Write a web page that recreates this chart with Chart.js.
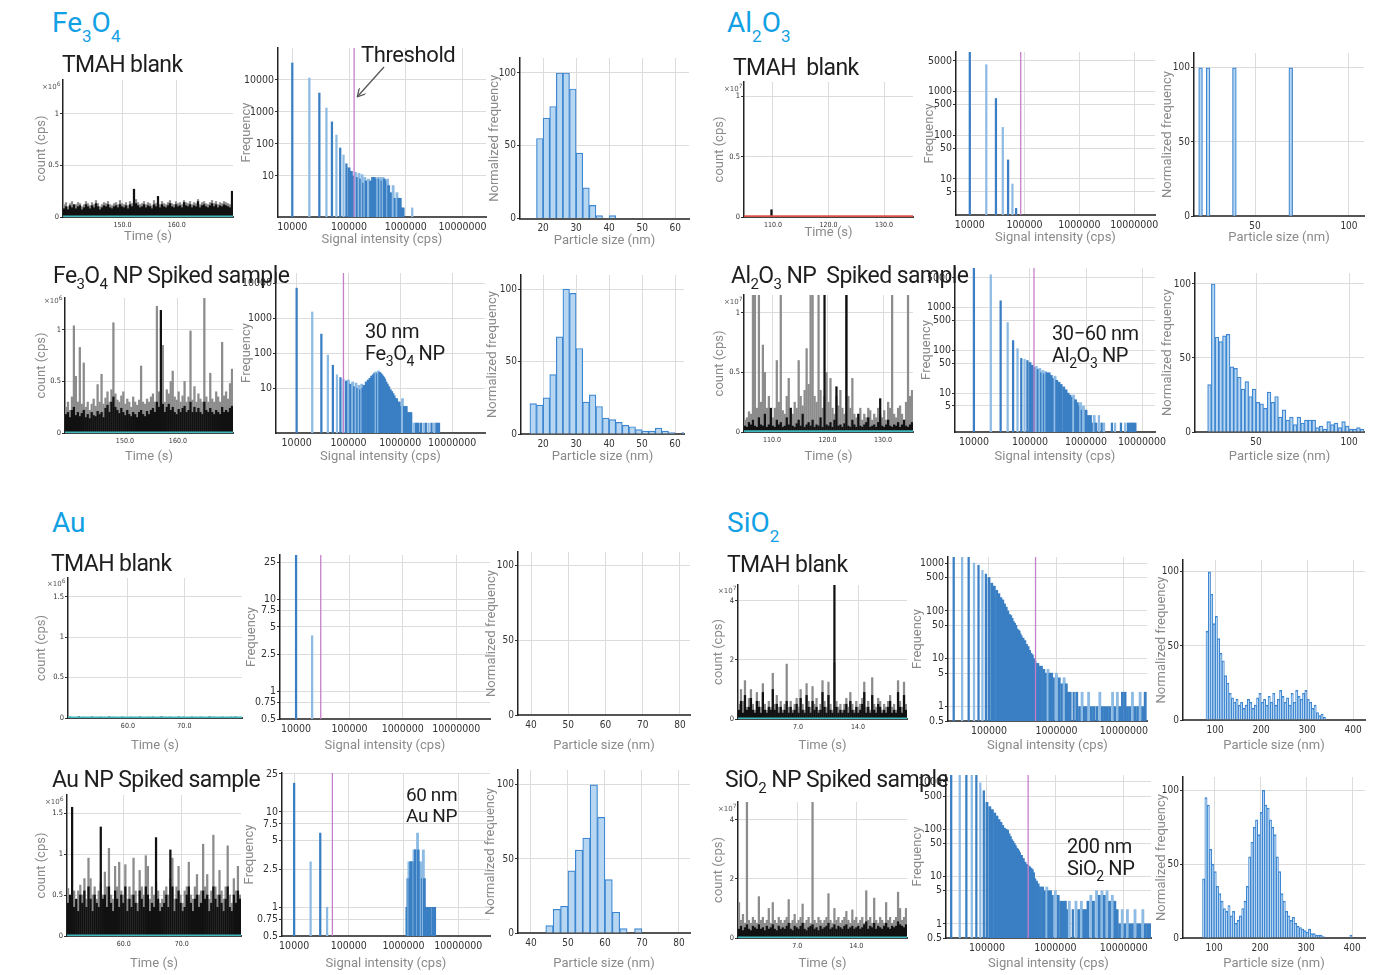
<!DOCTYPE html>
<html><head><meta charset="utf-8">
<script src="https://cdn.jsdelivr.net/npm/chart.js@4.4.1/dist/chart.umd.min.js"></script>
<style>
html,body{margin:0;padding:0;background:#fff;}
#root{position:relative;width:1379px;height:975px;overflow:hidden;font-family:Roboto,'Noto Sans',sans-serif;}
canvas{position:absolute;}
.t{position:absolute;white-space:nowrap;line-height:1;z-index:5;}
.h{font-size:28px;color:#12a0e4;}
.h sub{font-size:17px;vertical-align:baseline;position:relative;top:10px;}
.r{font-size:23px;color:#1e1e1e;letter-spacing:-0.6px;}
.r sub{font-size:15px;vertical-align:baseline;position:relative;top:6px;}
.a{font-size:20px;color:#1e1e1e;letter-spacing:-0.4px;}
.a sub{font-size:14px;vertical-align:baseline;position:relative;top:6px;}
.x{font-size:7px;color:#555;font-family:'DejaVu Sans',sans-serif;}
.x sup{font-size:6px;}
</style></head><body><div id="root">
<div class="t h" style="left:52px;top:8.5px">Fe<sub>3</sub>O<sub>4</sub></div>
<div class="t h" style="left:727px;top:8.5px">Al<sub>2</sub>O<sub>3</sub></div>
<div class="t h" style="left:52px;top:508.5px">Au</div>
<div class="t h" style="left:727px;top:508.5px">SiO<sub>2</sub></div>
<div class="t r" style="left:62px;top:52.5px">TMAH blank</div>
<div class="t r" style="left:53px;top:263.5px">Fe<sub>3</sub>O<sub>4</sub> NP Spiked sample</div>
<div class="t r" style="left:733px;top:55.5px">TMAH&nbsp; blank</div>
<div class="t r" style="left:731px;top:263.5px">Al<sub>2</sub>O<sub>3</sub> NP&nbsp; Spiked sample</div>
<div class="t r" style="left:51px;top:551.5px">TMAH blank</div>
<div class="t r" style="left:52px;top:767.5px">Au NP Spiked sample</div>
<div class="t r" style="left:727px;top:552.5px">TMAH blank</div>
<div class="t r" style="left:725px;top:767.5px">SiO<sub>2</sub> NP Spiked sample</div>
<div class="t a" style="left:361px;top:43.5px;font-size:22px">Threshold</div>
<div class="t a" style="left:365px;top:321px">30 nm</div>
<div class="t a" style="left:365px;top:343px">Fe<sub>3</sub>O<sub>4</sub> NP</div>
<div class="t a" style="left:1052px;top:323px">30−60 nm</div>
<div class="t a" style="left:1052px;top:345px">Al<sub>2</sub>O<sub>3</sub> NP</div>
<div class="t a" style="left:406px;top:785px;font-size:19px">60 nm</div>
<div class="t a" style="left:406px;top:806px;font-size:19px">Au NP</div>
<div class="t a" style="left:1067px;top:836px">200 nm</div>
<div class="t a" style="left:1067px;top:858px">SiO<sub>2</sub> NP</div>
<div class="t x" style="left:42px;top:81px">×10<sup>6</sup></div>
<div class="t x" style="left:44px;top:295px">×10<sup>6</sup></div>
<div class="t x" style="left:724px;top:83px">×10<sup>7</sup></div>
<div class="t x" style="left:724px;top:296px">×10<sup>7</sup></div>
<div class="t x" style="left:47px;top:578px">×10<sup>6</sup></div>
<div class="t x" style="left:45px;top:796px">×10<sup>6</sup></div>
<div class="t x" style="left:718px;top:585px">×10<sup>7</sup></div>
<div class="t x" style="left:718px;top:803px">×10<sup>7</sup></div>
<svg style="position:absolute;left:0;top:0;z-index:5;pointer-events:none" width="1379" height="975">
<defs><marker id="ah" markerWidth="9" markerHeight="9" refX="7" refY="4.5" orient="auto" markerUnits="userSpaceOnUse"><path d="M0,0 L8,4.5 L0,9" fill="none" stroke="#555" stroke-width="1.3"/></marker></defs>
<line x1="384" y1="67" x2="358" y2="96" stroke="#555" stroke-width="1.3" marker-end="url(#ah)"/>
</svg>
</div>
<script>
// ===================== DATA =====================
// ---- Fe3O4 ----
const feB_timeRange = [139, 170.4];
const feB_gray = [0.12,0.14,0.10,0.13,0.15,0.11,0.12,0.14,0.13,0.10,0.12,0.15,0.13,0.11,0.14,0.12,0.16,0.13,0.10,0.12,0.14,0.13,0.15,0.12,0.11,0.13,0.14,0.12,0.16,0.13,0.12,0.14,0.11,0.15,0.13,0.12,0.17,0.14,0.12,0.13,0.15,0.12,0.14,0.13,0.11,0.16,0.13,0.14,0.12,0.15,0.13,0.12,0.14,0.16,0.13,0.12,0.15,0.13,0.14,0.12,0.16,0.14,0.13,0.15,0.12,0.14,0.13,0.17,0.12,0.14,0.15,0.13,0.12,0.14,0.16,0.13,0.15,0.12,0.14,0.13,0.15,0.14,0.13,0.12,0.16];
const feB_black = [0.08,0.10,0.07,0.11,0.09,0.12,0.08,0.10,0.11,0.07,0.09,0.12,0.10,0.08,0.11,0.09,0.13,0.10,0.07,0.09,0.11,0.10,0.12,0.09,0.08,0.10,0.11,0.09,0.12,0.10,0.09,0.11,0.08,0.12,0.10,0.27,0.13,0.11,0.09,0.10,0.12,0.09,0.11,0.10,0.08,0.12,0.10,0.20,0.09,0.12,0.10,0.09,0.11,0.13,0.10,0.09,0.12,0.10,0.11,0.09,0.14,0.11,0.10,0.12,0.09,0.11,0.10,0.15,0.09,0.11,0.12,0.10,0.09,0.11,0.13,0.10,0.12,0.09,0.11,0.10,0.12,0.11,0.10,0.09,0.25];
const feS_timeRange = [138.7, 170.4];
const feS_gray = [0.25,0.3,0.22,0.35,1.04,0.55,0.3,0.83,0.28,0.68,0.25,0.3,0.22,0.28,0.33,0.26,0.47,0.3,0.57,0.28,0.34,0.4,0.3,0.42,1.07,0.38,0.32,0.3,0.36,0.4,0.28,0.33,0.3,0.25,0.35,0.3,0.27,0.32,0.65,0.3,0.28,0.33,0.3,0.35,0.38,0.3,1.23,0.4,0.35,0.85,0.3,0.42,0.38,0.5,0.6,0.35,0.32,0.4,0.3,0.36,0.5,0.3,0.35,0.99,0.32,0.45,0.3,0.38,0.33,0.3,1.31,0.35,0.3,0.58,0.33,0.3,0.4,0.35,0.3,0.88,0.36,0.4,0.33,0.48,0.62];
const feS_black = [0.18,0.2,0.15,0.22,0.25,0.17,0.2,0.16,0.19,0.22,0.15,0.18,0.14,0.2,0.17,0.16,0.21,0.18,0.2,0.15,0.24,0.27,0.2,0.3,0.35,0.25,0.22,0.19,0.24,0.2,0.17,0.22,0.18,0.16,0.2,0.18,0.15,0.2,0.22,0.18,0.16,0.21,0.18,0.22,0.24,0.2,0.3,0.25,1.19,0.28,0.2,0.25,0.28,0.22,0.25,0.2,0.18,0.23,0.2,0.24,0.26,0.2,0.22,0.3,0.2,0.25,0.2,0.24,0.2,0.18,0.3,0.22,0.2,0.24,0.2,0.18,0.22,0.2,0.18,0.25,0.2,0.22,0.2,0.24,0.26];
const feB_intensity = [10000,20000,30000,40000,50000,60000,70000,80000,90000,100000,110000,120000,130000,140000,150000,160000,170000,180000,190000,200000,220000,240000,260000,280000,300000,320000,340000,360000,380000,400000,420000,440000,460000,480000,500000,550000,600000,650000,700000,750000,800000,850000,900000,1300000];
const feB_freq = [34000,11500,3900,1330,490,190,75,45,24,18,14,10,13,9,12,8,11,6,9,7,8,7,9,9,8,9,8,9,7,9,8,6,7,8,5,3,5,2,3,2,2,1,1,1];
const feB_threshold = 123000;
const feS_intensity = [10000,20000,30000,40000,50000,60000,70000,80000,90000,100000,110000,120000,130000,140000,150000,160000,170000,180000,190000,200000,220000,240000,260000,280000,300000,320000,340000,360000,380000,400000,420000,440000,460000,480000,500000,530000,560000,600000,640000,680000,720000,760000,800000,850000,900000,950000,1000000,1100000,1200000,1300000,1400000,1500000,1600000,1800000,2000000,2200000,2500000,2800000,3100000,3500000,4000000,4500000,5000000,5500000];
const feS_freq = [7200,1500,350,88,45,24,20,18,16,17,13,15,11,14,10,12,9,13,10,12,15,17,19,22,24,27,29,26,31,28,26,24,22,20,18,15,13,11,9,8,7,6,5,5,4,4,3,5,3,3,2,2,2,1,1,1,1,1,1,1,1,1,1,1];
const feS_threshold = 80000;
const feB_sizeBins = [19,21,23,25,27,29,31,33,35,37,39,41];
const feB_sizeFreq = [55,69,77,100,100,89,45,21,9,2,0,2];
const feS_sizeBins = [17,19,21,23,25,27,29,31,33,35,37,39,41,43,45,47,49,51,53,55,57,59,61,63];
const feS_sizeFreq = [21,20,25,41,67,100,97,59,22,27,19,11,10,8,6,5,3,2,2,4,2,1,0,1];
// ---- Al2O3 ----
const alB_timeRange = [104.8, 135.2];
const alB_black = [0.004,0.005,0.003,0.004,0.005,0.004,0.06,0.004,0.003,0.005,0.004,0.004,0.005,0.003,0.004,0.005,0.004,0.003,0.004,0.005,0.004,0.004,0.003,0.005,0.004,0.004,0.005,0.003,0.004,0.004,0.005,0.004,0.003,0.004,0.005,0.004,0.004,0.003,0.005,0.004];
const alB_gray = [];
const alS_timeRange = [104.95, 135.4];
const alS_gray = [0.1,0.12,0.17,0.15,1.3,1.3,0.2,1.3,0.25,0.73,0.5,0.2,0.3,0.15,0.12,0.2,0.6,0.25,1.3,0.18,0.15,0.3,0.45,0.2,0.15,0.25,0.2,0.6,0.3,0.22,0.35,0.7,0.4,1.3,1.3,0.3,0.25,1.3,0.35,0.2,0.3,0.5,0.25,0.45,0.2,0.15,0.3,0.22,0.35,0.2,0.15,1.3,0.3,0.2,0.45,0.15,0.12,0.15,0.2,0.1,0.15,0.12,0.2,0.18,0.1,0.15,0.12,0.2,0.15,0.12,0.18,0.1,0.25,0.2,1.3,0.15,0.12,0.2,0.22,0.15,0.1,0.25,1.3,0.3,0.35];
const alS_black = [0.05,0.04,0.08,0.06,0.1,0.05,0.04,0.12,0.06,0.05,0.15,0.04,0.06,0.2,0.05,0.04,0.1,0.06,0.08,0.04,0.05,0.12,0.06,0.2,0.05,0.04,0.07,0.1,0.05,0.15,0.04,0.06,0.08,0.05,0.1,0.04,0.06,0.05,0.12,0.04,1.3,0.06,0.05,0.08,0.04,0.1,0.38,0.05,0.06,0.04,0.07,1.3,0.05,0.04,0.1,0.06,0.04,0.15,0.05,0.04,0.06,0.08,0.12,0.04,0.05,0.06,0.04,0.08,0.28,0.05,0.04,0.06,0.1,0.05,0.04,0.06,0.05,0.08,0.04,0.06,0.1,0.05,0.04,0.06,0.08];
const alB_intensity = [10000,20000,30000,40000,50000,60000,70000];
const alB_freq = [9000,4100,690,150,27,7.6,2.1];
const alB_threshold = 85000;
const alS_intensity = [10000,20000,30000,40000,50000,60000,70000,80000,90000,100000,110000,120000,130000,140000,150000,160000,170000,180000,190000,200000,220000,240000,260000,280000,300000,330000,360000,400000,440000,480000,520000,560000,600000,650000,700000,750000,800000,850000,900000,1000000,1100000,1200000,1300000,1400000,1500000,1700000,1900000,2100000,2900000,3300000,4200000,5000000,5600000,6200000,6800000,7500000];
const alS_freq = [9000,5900,1450,450,170,110,65,62,58,52,45,40,42,36,38,30,34,28,32,30,30,26,22,25,20,18,16,14,12,10,9,8,9,7,6,5,6,4,5,4,3,3,2,3,2,3,2,2,2,2,2,2,2,2,2,2];
const alS_threshold = 118000;
const alB_sizeBins = [21,23,25,27,29,31,33,35,37,39,41,43,45,47,49,51,53,55,57,59,61,63,65,67,69];
const alB_sizeFreq = [100,0,100,0,0,0,0,0,0,100,0,0,0,0,0,0,0,0,0,0,0,0,0,0,100];
const alS_sizeBins = [25,27,29,31,33,35,37,39,41,43,45,47,49,51,53,55,57,59,61,63,65,67,69,71,73,75,77,79,81,83,85,87,89,91,93,95,97,99,101,103,105,107];
const alS_sizeFreq = [32,100,64,61,65,66,44,43,37,29,34,24,29,20,19,16,27,20,24,10,15,8,10,5,10,6,8,8,8,3,4,2,7,5,6,3,7,4,2,2,3,2];
// ---- Au ----
const auB_timeRange = [49.4, 80.2];
const auB_black = [0.012,0.008,0.015,0.01,0.006,0.013,0.009,0.011,0.007,0.014,0.01,0.008,0.012,0.006,0.011,0.009,0.013,0.007,0.01,0.012,0.008,0.015,0.009,0.011,0.007,0.013,0.01,0.008,0.012,0.009,0.011,0.007,0.014,0.01,0.008,0.012,0.009,0.011,0.013,0.008];
const auB_gray = [];
const auS_timeRange = [50.2, 80.2];
const auS_gray = [0.58,0.45,0.5,0.55,0.4,0.55,0.62,0.5,0.7,0.45,0.95,0.7,0.5,0.6,0.45,0.55,0.65,0.5,0.78,0.6,1.07,0.5,0.45,0.85,0.6,0.9,0.55,0.5,0.87,0.45,0.6,0.5,0.95,0.55,0.4,0.8,0.6,0.5,0.98,0.85,0.45,0.6,0.5,0.65,0.55,0.4,0.45,0.55,0.6,0.5,0.7,0.95,0.45,0.6,0.85,0.5,0.4,0.55,0.6,0.9,0.5,0.45,0.6,0.75,0.5,0.55,1.12,0.6,0.75,0.45,0.55,1.23,0.6,0.5,0.8,0.55,0.45,0.6,1.1,0.5,0.4,0.7,0.55,0.85,0.5];
const auS_black = [0.4,0.5,1.57,0.35,0.45,0.3,0.5,0.4,0.55,0.35,0.6,0.45,0.3,0.5,0.4,0.35,1.33,0.45,0.5,0.35,0.6,0.4,0.3,0.55,0.45,0.35,0.5,0.4,0.6,0.3,0.45,0.35,0.5,0.4,0.3,0.55,0.45,0.35,0.6,0.5,0.3,0.4,0.35,1.2,0.45,0.3,0.35,0.4,0.5,0.35,1.05,0.6,0.3,0.45,0.55,0.4,0.3,0.35,0.5,0.6,0.4,0.3,0.45,0.5,0.35,0.4,0.55,0.45,0.5,0.3,0.4,0.6,0.45,0.35,0.5,0.4,0.3,0.45,0.6,0.35,0.3,0.5,0.4,0.55,0.45];
const auB_intensity = [10000,20000];
const auB_freq = [40,4];
const auB_threshold = 29000;
const auS_intensity = [10000,20000,30000,40000,1150000,1200000,1250000,1300000,1350000,1400000,1450000,1500000,1550000,1600000,1650000,1700000,1750000,1800000,1850000,1900000,1950000,2000000,2100000,2200000,2300000,2400000,2500000,2600000,2800000,3000000,3400000,3700000];
const auS_freq = [20,3,6,1,1,2,3,2,3,3,2,3,4,3,4,4,3,6,4,3,2,2,3,2,4,2,1,1,1,1,1,1];
const auS_threshold = 50000;
const auB_sizeBins = [];
const auB_sizeFreq = [];
const auS_sizeBins = [45,47,49,51,53,55,57,59,61,63,65,67,69,71];
const auS_sizeFreq = [5,16,18,42,56,64,100,78,36,14,3,0,3,0];
// ---- SiO2 ----
const siB_timeRange = [0, 19.7];
const siB_gray = [0.5,1.0,0.6,1.3,0.4,0.7,1.0,0.5,0.3,0.9,0.6,0.4,1.2,0.5,0.3,0.6,0.4,1.55,0.5,0.8,0.4,0.6,0.3,0.5,1.86,0.4,0.6,0.3,0.5,0.7,0.4,1.0,0.5,0.3,1.2,0.6,0.4,1.1,0.5,0.7,0.3,0.5,1.3,0.6,0.4,1.25,0.5,0.3,1.9,0.6,0.4,0.5,0.3,0.5,0.7,0.4,0.9,0.5,0.3,0.6,0.4,0.5,0.7,1.25,0.4,0.6,0.3,1.4,0.5,0.4,0.7,0.6,0.3,0.5,0.4,0.6,0.8,0.4,0.5,0.3,1.3,0.6,0.4,1.25,0.5];
const siB_black = [0.3,0.6,0.2,0.8,0.3,0.4,0.7,0.3,0.2,0.6,0.4,0.2,0.9,0.3,0.2,0.4,0.3,1.0,0.3,0.5,0.2,0.4,0.2,0.3,0.6,0.2,0.4,0.2,0.3,0.5,0.2,0.7,0.3,0.2,0.8,0.4,0.2,0.6,0.3,0.4,0.2,0.3,0.9,0.4,0.2,0.8,0.3,0.2,4.6,0.4,0.2,0.3,0.2,0.3,0.5,0.2,0.6,0.3,0.2,0.4,0.2,0.3,0.5,0.9,0.2,0.4,0.2,0.8,0.3,0.2,0.5,0.4,0.2,0.3,0.2,0.4,0.6,0.2,0.3,0.2,0.9,0.4,0.2,0.8,0.3];
const siS_timeRange = [0, 20];
const siS_gray = [1.2,0.6,0.8,0.5,4.6,0.6,0.5,0.7,0.6,0.5,1.4,0.6,0.7,0.5,0.6,1.0,0.5,1.2,0.6,0.5,0.7,0.6,0.5,0.6,0.7,1.3,0.5,0.6,0.8,0.5,0.6,0.7,1.15,0.5,0.6,0.7,0.5,4.6,0.6,0.5,0.7,0.6,0.5,0.6,0.7,1.5,0.6,0.5,1.0,0.6,0.7,0.5,0.6,0.7,0.9,0.6,0.5,0.95,0.6,0.7,0.5,0.6,0.7,0.5,1.6,0.6,0.7,0.5,1.35,0.6,0.5,0.7,0.6,0.5,1.2,0.6,0.7,0.5,0.6,0.7,1.55,1.0,0.6,0.7,1.0];
const siS_black = [0.3,0.4,0.25,0.35,0.45,0.3,0.25,0.4,0.35,0.3,0.45,0.3,0.35,0.25,0.4,0.3,0.35,0.45,0.3,0.25,0.4,0.3,0.35,0.3,0.4,0.5,0.3,0.25,0.4,0.35,0.3,0.4,0.5,0.3,0.25,0.35,0.4,0.45,0.3,0.35,0.25,0.4,0.3,0.35,0.4,0.5,0.3,0.35,0.45,0.3,0.4,0.35,0.3,0.4,0.45,0.3,0.35,0.4,0.3,0.35,0.4,0.3,0.35,0.45,0.55,0.3,0.4,0.35,0.5,0.3,0.4,0.35,0.3,0.4,0.5,0.35,0.3,0.4,0.35,0.4,0.55,0.45,0.4,0.35,0.45];
const siB_intensity = [30000,40000,50000,60000,70000,80000,90000,100000,110000,120000,130000,140000,150000,160000,170000,180000,190000,200000,210000,220000,230000,240000,250000,260000,270000,280000,290000,300000,320000,340000,360000,380000,400000,420000,440000,460000,480000,500000,530000,560000,600000,650000,700000,750000,800000,850000,900000,1000000,1100000,1200000,1300000,1400000,1500000,1600000,1800000,2000000,2200000,2400000,2600000,2800000,3000000,3300000,3600000,4000000,4400000,4800000,5200000,5700000,6200000,6800000,7400000,8000000,8700000,9500000,10400000,11300000,12300000,13400000,14600000,16000000,17400000,19000000,20700000];
const siB_freq = [5000,5000,5000,1000,900,710,590,500,380,330,270,230,190,170,140,120,100,85,80,70,60,55,50,42,40,38,33,30,27,24,20,18,15,13,12,10,9,8,8,7,7,6,5,6,5,5,4,5,4,3,4,3,2,2,2,2,1,2,1,1,2,1,1,1,2,1,1,1,1,2,1,2,1,2,2,1,1,2,1,1,2,1,2];
const siB_threshold = 490000;
const siS_intensity = [30000,40000,50000,60000,70000,80000,90000,100000,110000,120000,130000,140000,150000,160000,170000,180000,190000,200000,210000,220000,230000,240000,250000,260000,270000,280000,290000,300000,320000,340000,360000,380000,400000,420000,440000,460000,480000,500000,530000,560000,600000,650000,700000,750000,800000,850000,900000,1000000,1100000,1200000,1300000,1400000,1500000,1600000,1800000,2000000,2200000,2400000,2600000,2800000,3000000,3300000,3600000,4000000,4400000,4800000,5200000,5700000,6200000,6800000,7400000,8000000,8700000,9500000,10400000,11300000,12300000,13400000,14600000,16000000,17400000,19000000,20700000,22500000,24500000];
const siS_freq = [5000,5000,5000,5000,5000,950,650,370,300,260,220,190,160,140,120,105,100,95,80,70,60,55,50,45,40,38,35,32,28,24,20,18,17,16,15,14,12,9,8,7,6,6,5,6,5,5,4,5,4,3,3,3,2,3,2,3,2,3,2,2,3,4,3,5,4,5,4,5,3,4,3,2,1,2,1,2,1,1,2,1,1,2,1,1,1];
const siS_threshold = 400000;
const siB_sizeBins = [82.5,87.5,92.5,97.5,102.5,107.5,112.5,117.5,122.5,127.5,132.5,137.5,142.5,147.5,152.5,157.5,162.5,167.5,172.5,177.5,182.5,187.5,192.5,197.5,202.5,207.5,212.5,217.5,222.5,227.5,232.5,237.5,242.5,247.5,252.5,257.5,262.5,267.5,272.5,277.5,282.5,287.5,292.5,297.5,302.5,307.5,312.5,317.5,322.5,327.5,332.5,337.5];
const siB_sizeFreq = [60,100,85,65,70,55,45,40,30,25,18,15,12,14,10,12,8,10,14,12,8,10,15,18,12,14,10,16,12,18,10,14,20,16,12,15,10,18,12,20,16,14,18,20,14,12,8,10,5,3,4,2];
const siS_sizeBins = [77.5,82.5,87.5,92.5,97.5,102.5,107.5,112.5,117.5,122.5,127.5,132.5,137.5,142.5,147.5,152.5,157.5,162.5,167.5,172.5,177.5,182.5,187.5,192.5,197.5,202.5,207.5,212.5,217.5,222.5,227.5,232.5,237.5,242.5,247.5,252.5,257.5,262.5,267.5,272.5,277.5,282.5,287.5,292.5,297.5,302.5,307.5,312.5,317.5,322.5,327.5,332.5,337.5,342.5,347.5,352.5,357.5,362.5,367.5,372.5,377.5,382.5,387.5,392.5,397.5];
const siS_sizeFreq = [40,95,90,60,50,45,35,30,25,20,18,22,15,18,10,12,15,20,25,35,55,65,75,80,70,85,100,90,88,80,75,70,55,45,30,25,18,15,12,14,10,8,7,6,5,4,6,3,3,2,2,2,1,0,0,0,0,0,0,0,0,0,0,0,2];
// ---- shared tick values ----
const intensityTicks = [10000,100000,1000000,10000000];
const intensityTicksSi = [100000,1000000,10000000];
const freqTicksFe = [10,100,1000,10000];
const freqTicksAl = [5,10,50,100,500,1000,5000];
const freqTicksAu = [0.5,0.75,1,2.5,5,7.5,10,25];
const freqTicksSi = [0.5,1,5,10,50,100,500,1000];
const normTicks = [0,50,100];

// ===================== LAYOUT (plot-area rectangles, axis box sizes) =====================
const LAY = {
  feB_t:{l:63,t:80,r:233,b:217,W:29,H:28}, feB_f:{l:278,t:48,r:486,b:217,W:39,H:31}, feB_s:{l:520,t:58,r:689,b:218,W:33,H:30.5},
  feS_t:{l:65,t:298,r:233,b:433,W:31,H:32}, feS_f:{l:276,t:273,r:485,b:433,W:37,H:32}, feS_s:{l:521,t:275,r:684,b:434,W:36,H:31},
  alB_t:{l:744,t:82,r:913,b:217,W:32,H:24}, alB_f:{l:956,t:52,r:1155,b:215,W:34,H:31}, alB_s:{l:1194,t:53,r:1364,b:216,W:34,H:30},
  alS_t:{l:744,t:295,r:913,b:432,W:32,H:33}, alS_f:{l:955,t:268,r:1155,b:432,W:36,H:33}, alS_s:{l:1195,t:273,r:1364,b:432,W:35,H:33},
  auB_t:{l:68,t:578,r:242,b:718,W:34,H:36}, auB_f:{l:280,t:555,r:490,b:719,W:36,H:35}, auB_s:{l:518,t:552,r:690,b:715,W:34,H:39},
  auS_t:{l:67,t:795,r:241,b:936,W:33,H:36}, auS_f:{l:282,t:773,r:490,b:936,W:40,H:36}, auS_s:{l:518,t:770,r:690,b:933,W:35,H:39},
  siB_t:{l:738,t:585,r:907,b:719,W:27,H:35}, siB_f:{l:948,t:557,r:1147,b:721,W:38,H:33}, siB_s:{l:1183,t:560,r:1365,b:720,W:29,H:34},
  siS_t:{l:738,t:802,r:907,b:938,W:27,H:34}, siS_f:{l:946,t:775,r:1151,b:938,W:36,H:34}, siS_s:{l:1183,t:777,r:1365,b:938,W:29,H:34}
};

// ===================== RENDERING =====================
const TICKF = "'Liberation Sans Narrow','DejaVu Sans Condensed','Arial Narrow',sans-serif";
const TITLEF = "Roboto,'Noto Sans',sans-serif";
const PAD = 20;
const root = document.getElementById('root');
const DARK = '#3a7fc3', LIGHT = '#8dbbe4';

function canvasFor(L) {
  const c = document.createElement('canvas');
  const w = Math.round(L.W + (L.r - L.l) + 2 * PAD), h = Math.round((L.b - L.t) + L.H + 2 * PAD);
  c.width = w; c.height = h;
  c.style.left = (L.l - L.W - PAD) + 'px'; c.style.top = (L.t - PAD) + 'px';
  c.style.width = w + 'px'; c.style.height = h + 'px';
  root.insertBefore(c, root.firstChild);
  return c;
}
function axis(o) {
  return {
    type: o.type, position: o.pos, min: o.min, max: o.max, offset: false, beginAtZero: false,
    afterBuildTicks: s => { s.ticks = o.ticks.map(v => ({ value: v })); },
    afterFit: s => { if (o.pos === 'left') s.width = o.size; else s.height = o.size; },
    ticks: { font: { family: TICKF, size: o.fs }, color: '#333', padding: o.tpad ?? 1, maxRotation: 0, autoSkip: false, callback: o.fmt || (v => String(v)) },
    grid: { color: '#dcdcdc', lineWidth: 1, offset: false, tickLength: o.tl ?? 3, tickColor: o.tc ?? '#333' },
    border: { color: o.bc ?? '#222', width: o.bw ?? 1.5 },
    title: { display: true, text: o.title, color: '#8a8a8a', font: { family: TITLEF, size: 13 }, padding: 0 }
  };
}
function make(L, datasets, xo, yo) {
  new Chart(canvasFor(L), {
    type: 'bar',
    data: { datasets },
    options: {
      responsive: false, animation: false, devicePixelRatio: 1, events: [],
      layout: { padding: PAD },
      plugins: { legend: { display: false }, tooltip: { enabled: false } },
      scales: { x: axis(Object.assign({ pos: 'bottom', size: L.H }, xo)), y: axis(Object.assign({ pos: 'left', size: L.W }, yo)) }
    }
  });
}
function timeChart(L, range, ymax, yticks, xticks, gray, black, baseVal, baseColor, yfs) {
  const pts = a => a.map((v, i) => ({ x: range[0] + (i + 0.5) * (range[1] - range[0]) / a.length, y: v }));
  make(L, [
    { type: 'line', data: [{ x: range[0], y: baseVal }, { x: range[1], y: baseVal }], borderColor: baseColor, borderWidth: 2, pointRadius: 0 },
    { data: pts(black), backgroundColor: '#111', barThickness: 1.6, grouped: false },
    { data: pts(gray), backgroundColor: '#8c8c8c', barThickness: 1.6, grouped: false }
  ],
  { type: 'linear', min: range[0], max: range[1], ticks: xticks, fs: 7, fmt: v => v.toFixed(1), title: 'Time (s)', tl: 3, tc: 'rgba(0,0,0,0)', bc: '#444', bw: 2 },
  { type: 'linear', min: 0, max: ymax, ticks: yticks, fs: yfs || 7.5, title: 'count (cps)', tl: 3 });
}
function freqChart(L, xs, ys, th, xr, yr, yticks, xticks) {
  // split bins into isolated lines and closely packed bins (by spacing between neighbours)
  const dense = xs.map((x, i) => (i > 0 && x / xs[i - 1] < 1.105) || (i < xs.length - 1 && xs[i + 1] / x < 1.105));
  const sp = [], spC = [], dn = [], dnC = [];
  xs.forEach((x, i) => {
    const p = { x, y: ys[i] };
    if (dense[i]) {
      const peak = i > 0 && i < ys.length - 1 && ys[i] > ys[i - 1] && ys[i] > ys[i + 1];
      dn.push(p); dnC.push(peak ? LIGHT : DARK);
    } else { sp.push(p); spC.push(i % 2 ? LIGHT : DARK); }
  });
  make(L, [
    { type: 'line', data: [{ x: th, y: yr[0] }, { x: th, y: yr[1] }], borderColor: '#c57fc9', borderWidth: 1.3, pointRadius: 0 },
    { data: sp, backgroundColor: spC, barThickness: 1.6, grouped: false },
    { data: dn, backgroundColor: dnC, barThickness: 2.2, grouped: false }
  ],
  { type: 'logarithmic', min: xr[0], max: xr[1], ticks: xticks, fs: 10.5, title: 'Signal intensity (cps)', tl: 3, tc: 'rgba(0,0,0,0)', bc: '#555', bw: 2 },
  { type: 'logarithmic', min: yr[0], max: yr[1], ticks: yticks, fs: 10.5, title: 'Frequency', tl: 3 });
}
function sizeChart(L, xs, ys, xr, ymax, xticks) {
  make(L, [
    { data: xs.map((x, i) => ({ x, y: ys[i] })), backgroundColor: '#b6d6f2', borderColor: '#3d86d1', borderWidth: 1.2, barPercentage: 1, categoryPercentage: 1, grouped: false }
  ],
  { type: 'linear', min: xr[0], max: xr[1], ticks: xticks, fs: 10, title: 'Particle size (nm)', tl: 3, tc: 'rgba(0,0,0,0)', bc: '#555', bw: 2 },
  { type: 'linear', min: 0, max: ymax, ticks: normTicks, fs: 10, title: 'Normalized frequency', tl: 3 });
}

// Fe3O4
timeChart(LAY.feB_t, feB_timeRange, 1.33, [0, 0.5, 1], [150, 160], feB_gray, feB_black, 0.006, '#3fb9bd');
freqChart(LAY.feB_f, feB_intensity, feB_freq, feB_threshold, [5600, 2.6e7], [0.52, 1e5], freqTicksFe, intensityTicks);
sizeChart(LAY.feB_s, feB_sizeBins, feB_sizeFreq, [13, 64.2], 110.3, [20, 30, 40, 50, 60]);
timeChart(LAY.feS_t, feS_timeRange, 1.31, [0, 0.5, 1], [150, 160], feS_gray, feS_black, 0.006, '#3fb9bd');
freqChart(LAY.feS_f, feS_intensity, feS_freq, feS_threshold, [4000, 4.3e7], [0.52, 19500], freqTicksFe, intensityTicks);
sizeChart(LAY.feS_s, feS_sizeBins, feS_sizeFreq, [13.3, 62.7], 109.7, [20, 30, 40, 50, 60]);
// Al2O3
timeChart(LAY.alB_t, alB_timeRange, 1.12, [0, 0.5, 1], [110, 120, 130], alB_gray, alB_black, 0.006, '#e0504a');
freqChart(LAY.alB_f, alB_intensity, alB_freq, alB_threshold, [5600, 2.4e7], [1.48, 8000], freqTicksAl, intensityTicks);
sizeChart(LAY.alB_s, alB_sizeBins, alB_sizeFreq, [17.5, 108], 110, [50, 100]);
timeChart(LAY.alS_t, alS_timeRange, 1.15, [0, 0.5, 1], [110, 120, 130], alS_gray, alS_black, 0.006, '#3fb9bd');
freqChart(LAY.alS_f, alS_intensity, alS_freq, alS_threshold, [4600, 1.7e7], [1.23, 8500], freqTicksAl, intensityTicks);
sizeChart(LAY.alS_s, alS_sizeBins, alS_sizeFreq, [17.2, 108], 107.4, [50, 100]);
// Au
timeChart(LAY.auB_t, auB_timeRange, 1.73, [0, 0.5, 1, 1.5], [60, 70], auB_gray, auB_black, 0.006, '#3fb9bd');
freqChart(LAY.auB_f, auB_intensity, auB_freq, auB_threshold, [5000, 4.3e7], [0.5, 30], freqTicksAu, intensityTicks);
sizeChart(LAY.auB_s, auB_sizeBins, auB_sizeFreq, [36.5, 82.7], 109, [40, 50, 60, 70, 80]);
timeChart(LAY.auS_t, auS_timeRange, 1.72, [0, 0.5, 1, 1.5], [60, 70], auS_gray, auS_black, 0.006, '#3fb9bd');
freqChart(LAY.auS_f, auS_intensity, auS_freq, auS_threshold, [6000, 3.8e7], [0.5, 25.6], freqTicksAu, intensityTicks);
sizeChart(LAY.auS_s, auS_sizeBins, auS_sizeFreq, [36.5, 83], 110, [40, 50, 60, 70, 80]);
// SiO2
timeChart(LAY.siB_t, siB_timeRange, 4.54, [0, 2, 4], [7, 14], siB_gray, siB_black, 0.02, '#3fb9bd');
freqChart(LAY.siB_f, siB_intensity, siB_freq, siB_threshold, [24700, 2.2e7], [0.5, 1340], freqTicksSi, intensityTicksSi);
sizeChart(LAY.siB_s, siB_sizeBins, siB_sizeFreq, [30, 426], 108, [100, 200, 300, 400]);
timeChart(LAY.siS_t, siS_timeRange, 4.6, [0, 2, 4], [7, 14], siS_gray, siS_black, 0.02, '#3fb9bd');
freqChart(LAY.siS_f, siS_intensity, siS_freq, siS_threshold, [25200, 2.5e7], [0.5, 1400], freqTicksSi, intensityTicksSi);
sizeChart(LAY.siS_s, siS_sizeBins, siS_sizeFreq, [32.6, 428], 109, [100, 200, 300, 400]);
</script></body></html>
